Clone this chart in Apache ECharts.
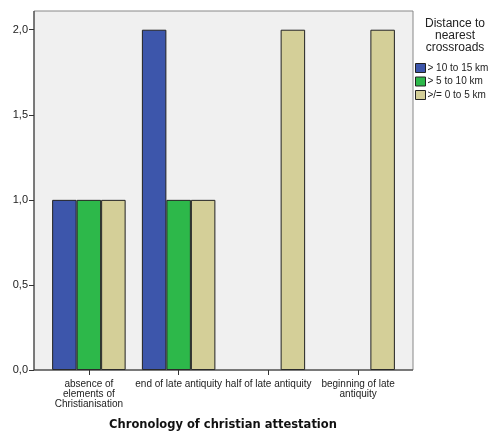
<!DOCTYPE html>
<html>
<head>
<meta charset="utf-8">
<script src="https://cdn.jsdelivr.net/npm/echarts@6/dist/echarts.min.js"></script>
<style>html,body{margin:0;padding:0;background:#fff}#c{width:491px;height:432px}</style>
</head>
<body>
<div id="c"></div>
<script>
const categories = ['absence of\nelements of\nChristianisation', 'end of late antiquity', 'half of late antiquity', 'beginning of late\nantiquity'];
const seriesNames = ['> 10 to 15 km', '> 5 to 10 km', '>/= 0 to 5 km'];
const far = [1, 2, 0, 0];
const mid = [1, 1, 0, 0];
const near = [1, 1, 2, 2];
const colors = ['#3d56ab', '#2db84a', '#d4cf98'];
const font = 'Liberation Sans, Arial, sans-serif';

const chart = echarts.init(document.getElementById('c'));
const mk = (name, data, color) => ({
  name, type: 'bar', data: data.map(v => (v === 0 ? null : v)), barWidth: 24.5, barGap: '0%',
  itemStyle: { color, borderColor: '#222', borderWidth: 1 },
  z: 3
});
chart.setOption({
  animation: false,
  backgroundColor: '#fff',
  grid: { left: 44, right: 88, top: 11, bottom: 62 },
  graphic: [
    { type: 'rect', shape: { x: 34, y: 11, width: 379, height: 359 },
      style: { fill: '#f0f0f0', stroke: '#888', lineWidth: 1 }, z: 0, silent: true },
    { type: 'line', shape: { x1: 34, y1: 370, x2: 413, y2: 370 }, style: { stroke: '#333', lineWidth: 1 }, z: 10 },
    { type: 'line', shape: { x1: 34, y1: 11, x2: 34, y2: 370 }, style: { stroke: '#333', lineWidth: 1 }, z: 10 },
    { type: 'text', x: 455, y: 18,
      style: { text: 'Distance to\nnearest\ncrossroads', font: '12px ' + font, fill: '#222', align: 'center', lineHeight: 12 }, z: 10 },
    { type: 'text', x: 223, y: 419,
      style: { text: 'Chronology of christian attestation', font: 'bold 11.5px DejaVu Sans, sans-serif', fill: '#111', align: 'center' }, z: 10 }
  ],
  legend: {
    orient: 'vertical', left: 410, top: 58, itemWidth: 10, itemHeight: 9, itemGap: 3.5,
    icon: 'rect', data: seriesNames,
    itemStyle: { borderColor: '#222', borderWidth: 1 },
    textStyle: { fontSize: 10, fontFamily: font, color: '#222', lineHeight: 9, padding: [0, 0, 0, -3] }
  },
  xAxis: {
    type: 'category', data: categories,
    axisLine: { show: false },
    axisTick: { show: true, alignWithLabel: true, length: 5, lineStyle: { color: '#333' } },
    axisLabel: { interval: 0, fontSize: 10, fontFamily: font, color: '#222', lineHeight: 10, margin: 9 }
  },
  yAxis: {
    type: 'value', min: 0, max: 2.11, interval: 0.5, offset: 10,
    axisLine: { show: false },
    axisTick: { show: true, inside: false, length: 5, lineStyle: { color: '#333' } },
    splitLine: { show: false },
    axisLabel: { fontSize: 11, fontFamily: font, color: '#222', margin: 6, showMaxLabel: false,
      formatter: v => v.toFixed(1).replace('.', ',') }
  },
  series: [mk(seriesNames[0], far, colors[0]), mk(seriesNames[1], mid, colors[1]), mk(seriesNames[2], near, colors[2])]
});
</script>
</body>
</html>
